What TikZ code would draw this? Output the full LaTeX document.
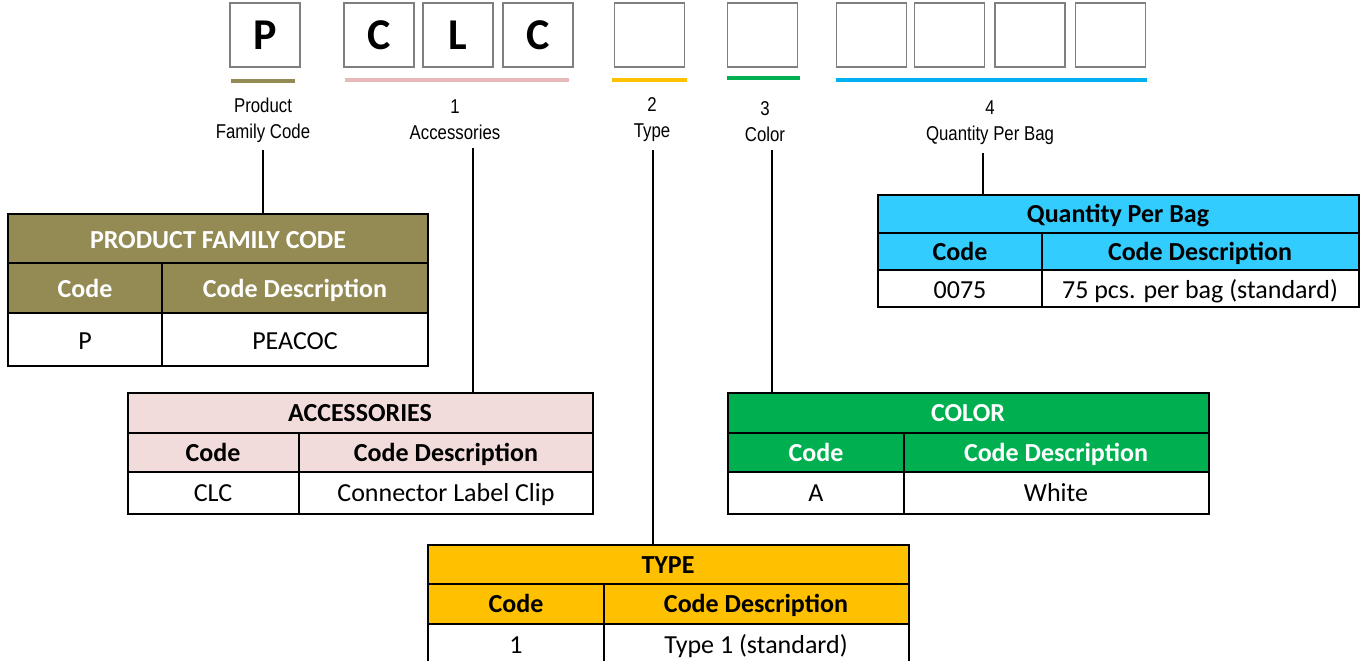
\documentclass[tikz,border=0pt]{standalone}
\usepackage{fontspec}
\setmainfont{Carlito}
\newfontfamily\labfont{Liberation Sans}[FakeStretch=0.84]
\usetikzlibrary{positioning,calc}

\definecolor{famcol}{HTML}{948A54}
\definecolor{acccol}{HTML}{F2DCDB}
\definecolor{accbar}{HTML}{E6B9B8}
\definecolor{typecol}{HTML}{FFC000}
\definecolor{colcol}{HTML}{00B050}
\definecolor{qtycol}{HTML}{33CCFF}
\definecolor{qtybar}{HTML}{00B0F0}
\definecolor{boxgray}{HTML}{7F7F7F}

\tikzset{
	charbox/.style={draw=boxgray, line width=1.5pt, fill=white, minimum width=70pt, minimum height=64pt, inner sep=0pt, font=\bfseries\fontsize{44}{44}\selectfont},
	bar/.style={line width=4pt, draw=#1},
	lab/.style={align=center, inner sep=0pt, outer sep=8pt, font=\labfont\fontsize{20}{26}\selectfont},
	conn/.style={line width=2pt, black},
	tabframe/.style={draw=black, line width=2pt, inner sep=0pt},
	grid line/.style={line width=1.2pt, black},
	head/.style={inner sep=0pt, text height=22pt, text depth=5pt, font=\bfseries\fontsize{26}{30}\selectfont},
	cell/.style={inner sep=0pt, text height=22pt, text depth=5pt, font=\fontsize{26}{30}\selectfont}
}

\begin{document}
\begin{tikzpicture}[x=1pt,y=-1pt]
	\clip (0,0) rectangle (1360,661);

	% code boxes
	\node[charbox] (b1) at (265,35) {P};
	\node[charbox] (b2) at (379,35) {C};
	\node[charbox] (b3) at (458,35) {L};
	\node[charbox] (b4) at (538,35) {C};
	\node[charbox] (b5) at (649.5,35) {};
	\node[charbox] (b6) at (762.5,35) {};
	\node[charbox] (b7) at (871.5,35) {};
	\node[charbox] (b8) at (949.5,35) {};
	\node[charbox] (b9) at (1030,35) {};
	\node[charbox] (b10) at (1110.5,35) {};

	% colour bars
	\draw[bar=famcol] (231,81) -- (295,81);
	\draw[bar=accbar] (345,80) -- (569,80);
	\draw[bar=typecol] (612,80) -- (687,80);
	\draw[bar=colcol] (727,78) -- (800,78);
	\draw[bar=qtybar] (836,80) -- (1147,80);

	% labels
	\node[lab] (fam-lab) at (263,120) {Product\\Family Code};
	\node[lab] (acc-lab) at (455,120) {1\\Accessories};
	\node[lab] (type-lab) at (652,120) {2\\Type};
	\node[lab] (col-lab) at (765,122) {3\\Color};
	\node[lab] (qty-lab) at (990,123) {4\\Quantity Per Bag};

	% product family code
	\fill[famcol] (8,214) rectangle (428,313);
	\draw[grid line] (8,263) -- (428,263) (8,313) -- (428,313) (162,263) -- (162,366);
	\node[tabframe, minimum width=420pt, minimum height=152pt] (pfc) at (218,290) {};
	\node[head, text=white] (pfc-title) at (218,240) {PRODUCT FAMILY CODE};
	\node[head, text=white] (pfc-code) at (85,289) {Code};
	\node[head, text=white] (pfc-desc) at (295,289) {Code Description};
	\node[cell] (pfc-c1) at (85,341) {P};
	\node[cell] (pfc-d1) at (295,341) {PEACOC};

	% accessories
	\fill[acccol] (128,393) rectangle (593,472);
	\draw[grid line] (128,433) -- (593,433) (128,472) -- (593,472) (299,433) -- (299,514);
	\node[tabframe, minimum width=465pt, minimum height=121pt] (acc) at (360.5,453.5) {};
	\node[head] (acc-title) at (360,413) {ACCESSORIES};
	\node[head] (acc-code) at (213,453) {Code};
	\node[head] (acc-desc) at (446,453) {Code Description};
	\node[cell] (acc-c1) at (213,493) {CLC};
	\node[cell] (acc-d1) at (446,493) {Connector Label Clip};

	% type
	\fill[typecol] (428,545) rectangle (909,624);
	\draw[grid line] (428,584) -- (909,584) (428,624) -- (909,624) (604,584) -- (604,680);
	\node[tabframe, minimum width=481pt, minimum height=135pt] (type) at (668.5,612.5) {};
	\node[head] (type-title) at (668,565) {TYPE};
	\node[head] (type-code) at (516,604) {Code};
	\node[head] (type-desc) at (756,604) {Code Description};
	\node[cell] (type-c1) at (516,645) {1};
	\node[cell] (type-d1) at (756,645) {Type 1 (standard)};

	% color
	\fill[colcol] (728,393) rectangle (1209,472);
	\draw[grid line] (728,433) -- (1209,433) (728,472) -- (1209,472) (904,433) -- (904,514);
	\node[tabframe, minimum width=481pt, minimum height=121pt] (col) at (968.5,453.5) {};
	\node[head, text=white] (col-title) at (968,413) {COLOR};
	\node[head, text=white] (col-code) at (816,453) {Code};
	\node[head, text=white] (col-desc) at (1056,453) {Code Description};
	\node[cell] (col-c1) at (816,493) {A};
	\node[cell] (col-d1) at (1056,493) {White};

	% quantity per bag
	\fill[qtycol] (878,195) rectangle (1359,270);
	\draw[grid line] (878,233) -- (1359,233) (878,270) -- (1359,270) (1042,233) -- (1042,307);
	\node[tabframe, minimum width=481pt, minimum height=112pt] (qty) at (1118.5,251) {};
	\node[head] (qty-title) at (1118,214) {Quantity Per Bag};
	\node[head] (qty-code) at (960,252) {Code};
	\node[head] (qty-desc) at (1200,252) {Code Description};
	\node[cell] (qty-c1) at (960,290) {0075};
	\node[cell] (qty-d1) at (1200,290) {75 pcs. per bag (standard)};

	% connectors
	\coordinate (pfc-in) at (263,214);
	\coordinate (acc-in) at (473,393);
	\coordinate (type-in) at (653,545);
	\coordinate (col-in) at (772,393);
	\coordinate (qty-in) at (983,195);
	\draw[conn] (pfc-in |- fam-lab.south) -- (pfc-in);
	\draw[conn] (acc-in |- acc-lab.south) -- (acc-in);
	\draw[conn] (type-in |- type-lab.south) -- (type-in);
	\draw[conn] (col-in |- col-lab.south) -- (col-in);
	\draw[conn] (qty-in |- qty-lab.south) -- (qty-in);
\end{tikzpicture}
\end{document}
